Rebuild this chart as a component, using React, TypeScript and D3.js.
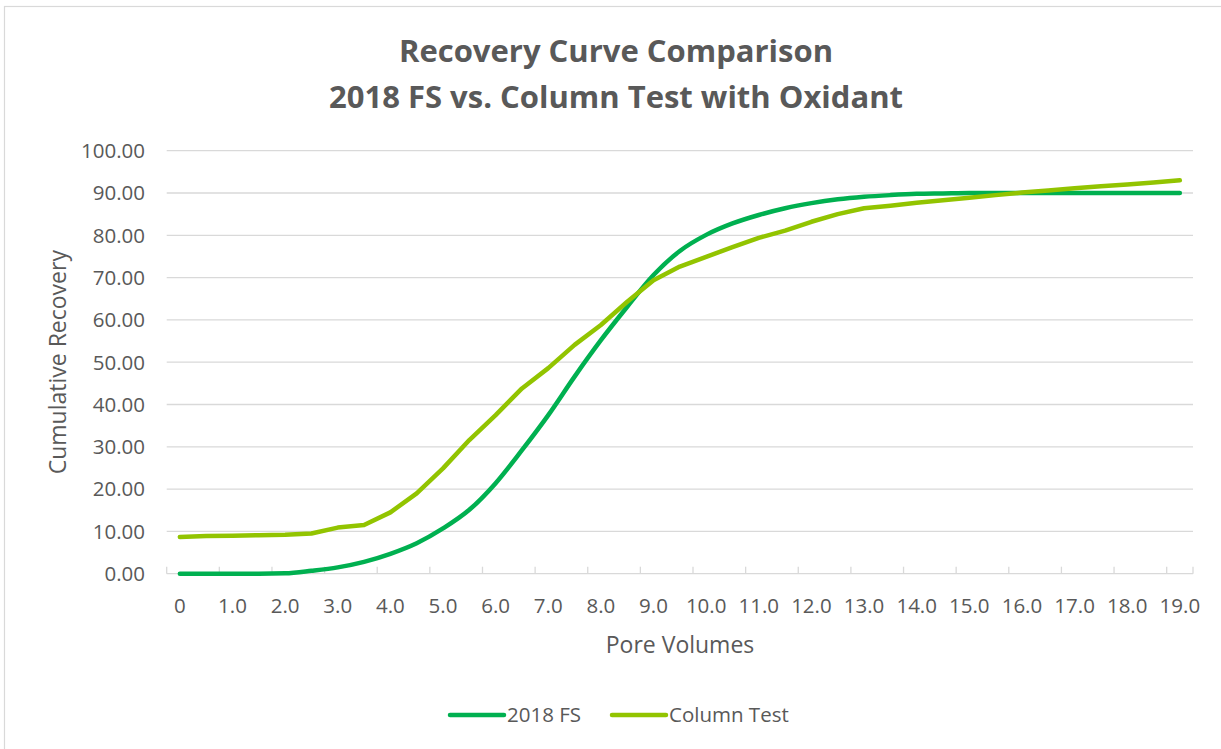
import React, { useEffect, useRef } from "react";
import * as d3 from "d3";

const poreVolumes = [
  0, 0.5, 1, 1.5, 2, 2.5, 3, 3.5, 4, 4.5, 5, 5.5, 6, 6.5, 7, 7.5, 8, 8.5, 9, 9.5,
  10, 10.5, 11, 11.5, 12, 12.5, 13, 13.5, 14, 14.5, 15, 15.5, 16, 16.5, 17, 17.5, 18, 18.5, 19,
];

const fs2018 = [
  0, 0, 0, 0, 0.1, 0.7, 1.5, 2.8, 4.7, 7.2, 10.7, 15.1, 21.4, 29.2, 37.5, 46.6, 55.2, 63.1, 70.6, 76.3,
  80.1, 82.8, 84.8, 86.4, 87.6, 88.5, 89.1, 89.5, 89.8, 89.9, 90, 90, 90, 90, 90, 90, 90, 90, 90,
];

const columnTest = [
  8.7, 8.9, 9.0, 9.1, 9.2, 9.5, 10.9, 11.5, 14.5, 19.0, 24.9, 31.6, 37.5, 43.8, 48.6, 54.1, 58.8, 64.3, 69.4, 72.6,
  74.9, 77.2, 79.4, 81.1, 83.2, 85.0, 86.4, 87.0, 87.7, 88.3, 88.9, 89.5, 90.1, 90.6, 91.1, 91.6, 92.0, 92.5, 93.0,
];

const xTickLabels = [
  "0", "1.0", "2.0", "3.0", "4.0", "5.0", "6.0", "7.0", "8.0", "9.0",
  "10.0", "11.0", "12.0", "13.0", "14.0", "15.0", "16.0", "17.0", "18.0", "19.0",
];
const yTicks = [0, 10, 20, 30, 40, 50, 60, 70, 80, 90, 100];

const seriesNames = ["2018 FS", "Column Test"];
const seriesColors = ["#00b050", "#92c400"];

const W = 1221;
const H = 749;
const FONT = "'Open Sans', sans-serif";
const TEXT = "#595959";
const GRID = "#d9d9d9";

export default function App() {
  const ref = useRef<SVGSVGElement | null>(null);

  useEffect(() => {
    const svg = d3.select(ref.current);
    svg.selectAll("*").remove();

    const margin = { left: 166.7, right: W - 1193, top: 150.7, bottom: H - 573.7 };

    svg.append("rect").attr("width", W).attr("height", H).attr("fill", "#fff");
    svg
      .append("rect")
      .attr("x", 4.5)
      .attr("y", 6.5)
      .attr("width", W + 20)
      .attr("height", H + 20)
      .attr("fill", "none")
      .attr("stroke", GRID)
      .attr("stroke-width", 1.2);

    const x = d3
      .scaleBand<number>()
      .domain(poreVolumes.map((_, i) => i))
      .range([margin.left, W - margin.right]);
    const cx = (i: number) => (x(i) as number) + x.bandwidth() / 2;

    const y = d3.scaleLinear().domain([0, 100]).range([H - margin.bottom, margin.top]);

    // title
    const title = svg
      .append("text")
      .attr("text-anchor", "middle")
      .attr("font-family", FONT)
      .attr("font-weight", "bold")
      .attr("font-size", 31)
      .attr("fill", TEXT);
    title.append("tspan").attr("x", 616).attr("y", 62).text("Recovery Curve Comparison");
    title.append("tspan").attr("x", 616).attr("y", 108).text("2018 FS vs. Column Test with Oxidant");

    // gridlines
    svg
      .append("g")
      .selectAll("line")
      .data(yTicks.filter((d) => d > 0))
      .join("line")
      .attr("x1", margin.left)
      .attr("x2", W - margin.right)
      .attr("y1", (d) => y(d))
      .attr("y2", (d) => y(d))
      .attr("stroke", GRID)
      .attr("stroke-width", 1.3);

    // y labels
    svg
      .append("g")
      .selectAll("text")
      .data(yTicks)
      .join("text")
      .attr("x", 145)
      .attr("y", (d) => y(d))
      .attr("dy", "0.36em")
      .attr("text-anchor", "end")
      .attr("font-family", FONT)
      .attr("font-size", 20.5)
      .attr("fill", TEXT)
      .text((d) => d.toFixed(2));

    // x axis line + ticks
    const axisY = y(0);
    svg
      .append("line")
      .attr("x1", margin.left)
      .attr("x2", W - margin.right)
      .attr("y1", axisY)
      .attr("y2", axisY)
      .attr("stroke", GRID)
      .attr("stroke-width", 1.3);

    const tickIdx = poreVolumes.map((_, i) => i).filter((i) => i % 2 === 0);
    svg
      .append("g")
      .selectAll("line")
      .data([...tickIdx.map((i) => x(i) as number), W - margin.right])
      .join("line")
      .attr("x1", (d) => d)
      .attr("x2", (d) => d)
      .attr("y1", axisY)
      .attr("y2", axisY - 7)
      .attr("stroke", GRID)
      .attr("stroke-width", 1.3);

    svg
      .append("g")
      .selectAll("text")
      .data(tickIdx)
      .join("text")
      .attr("x", (i) => cx(i))
      .attr("y", 613)
      .attr("text-anchor", "middle")
      .attr("font-family", FONT)
      .attr("font-size", 20.5)
      .attr("fill", TEXT)
      .text((_, k) => xTickLabels[k]);

    // axis titles
    svg
      .append("text")
      .attr("x", 680)
      .attr("y", 653)
      .attr("text-anchor", "middle")
      .attr("font-family", FONT)
      .attr("font-size", 23)
      .attr("fill", TEXT)
      .text("Pore Volumes");

    svg
      .append("text")
      .attr("transform", `translate(66,${(margin.top + axisY) / 2}) rotate(-90)`)
      .attr("text-anchor", "middle")
      .attr("font-family", FONT)
      .attr("font-size", 23)
      .attr("fill", TEXT)
      .text("Cumulative Recovery");

    // lines
    const series = [fs2018, columnTest];
    const curves = [d3.curveMonotoneX, d3.curveLinear];
    series.forEach((values, s) => {
      const line = d3
        .line<number>()
        .x((_, i) => cx(i))
        .y((d) => y(d))
        .curve(curves[s]);
      svg
        .append("path")
        .attr("d", line(values))
        .attr("fill", "none")
        .attr("stroke", seriesColors[s])
        .attr("stroke-width", 4.5)
        .attr("stroke-linecap", "round")
        .attr("stroke-linejoin", "round");
    });

    // legend
    const legendX = [450, 612];
    const legend = svg.append("g");
    seriesNames.forEach((name, s) => {
      const g = legend.append("g").attr("transform", `translate(${legendX[s]},715)`);
      g.append("line")
        .attr("x1", 0)
        .attr("x2", 54)
        .attr("stroke", seriesColors[s])
        .attr("stroke-width", 4.5)
        .attr("stroke-linecap", "round");
      g.append("text")
        .attr("x", 57)
        .attr("dy", "0.36em")
        .attr("font-family", FONT)
        .attr("font-size", 20.5)
        .attr("fill", TEXT)
        .text(name);
    });
  }, []);

  return (
    <svg
      ref={ref}
      width={W}
      height={H}
      style={{ position: "fixed", left: 0, top: 0, display: "block" }}
    />
  );
}
